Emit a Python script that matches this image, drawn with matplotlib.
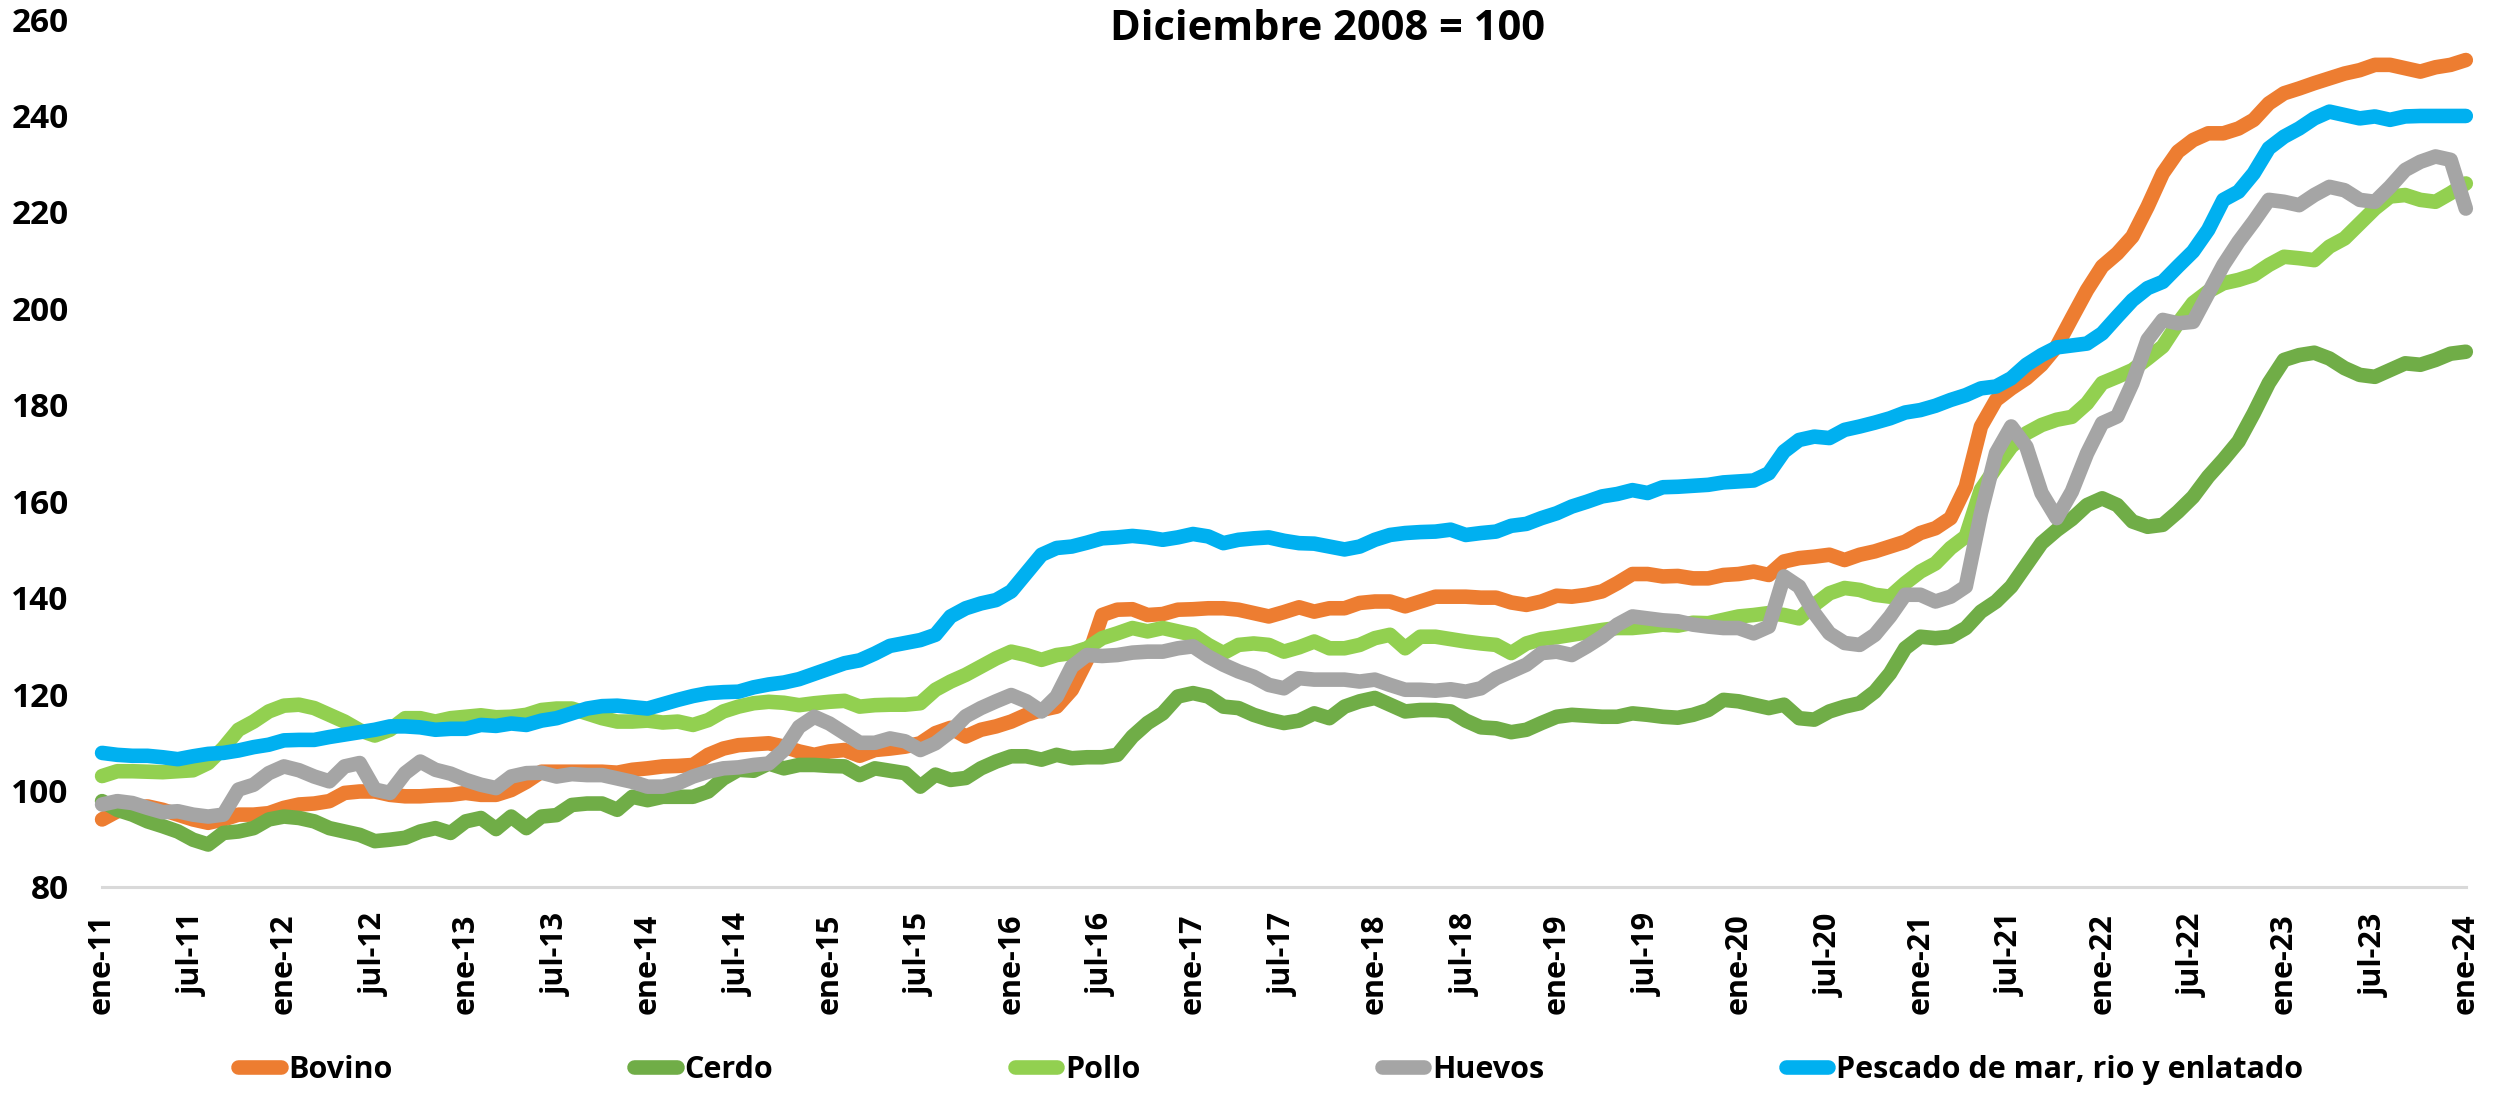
import matplotlib.pyplot as plt
import numpy as np

# indices mensuales ene-11 .. ene-24 (Diciembre 2008 = 100)
years = list(range(11, 25))
meses = ["ene", "jul"]

bovino = [94, 95.7, 96.4, 96.7, 96, 95, 94, 93.3, 94, 95, 95, 95.3,
          96.4, 97.1, 97.3, 97.8, 99.5, 99.8, 99.8, 99.1, 98.8, 98.8, 99, 99.1,
          99.5, 99.1, 99.1, 100.1, 101.8, 103.9, 103.9, 103.9, 103.9, 103.9, 103.7, 104.3,
          104.6, 105, 105.1, 105.3, 107.4, 108.7, 109.4, 109.6, 109.8, 109.1, 108.1, 107.4,
          108.1, 108.4, 107.2, 108.4, 108.7, 109.1, 109.8, 111.9, 113, 111.2, 112.6, 113.3,
          114.3, 115.7, 116.7, 117.4, 120.9, 127.1, 136.4, 137.5, 137.6, 136.4, 136.6, 137.5,
          137.6, 137.8, 137.8, 137.5, 136.8, 136.1, 137, 138, 137.1, 137.8, 137.8, 138.9,
          139.2, 139.2, 138.2, 139.2, 140.2, 140.2, 140.2, 140, 140, 139, 138.5, 139.2,
          140.4, 140.2, 140.6, 141.3, 143, 144.9, 144.9, 144.4, 144.5, 144.0, 144.0, 144.7,
          144.9, 145.4, 144.7, 147.5, 148.2, 148.5, 148.9, 147.8, 148.9, 149.6, 150.6, 151.6,
          153.4, 154.4, 156.5, 163, 175.5, 181, 183.4, 185.5, 188.3, 192.1, 198, 203.8,
          208.7, 211.4, 214.9, 221.1, 228, 232.5, 234.9, 236.3, 236.3, 237.3, 239.1, 242.5,
          244.6, 245.6, 246.7, 247.7, 248.7, 249.4, 250.5, 250.5, 249.8, 249.1, 250, 250.5,
          251.5]

cerdo = [97.8, 96, 95, 93.6, 92.6, 91.5, 89.8, 88.8, 91.2, 91.5, 92.2, 94,
         94.6, 94.3, 93.6, 92.2, 91.5, 90.8, 89.5, 89.8, 90.2, 91.5, 92.2, 91.2,
         93.6, 94.3, 92, 94.6, 92.2, 94.6, 94.9, 97, 97.3, 97.3, 96, 98.7,
         98, 98.7, 98.7, 98.7, 99.8, 102.5, 104.3, 104.1, 105.6, 104.6, 105.3, 105.3,
         105.1, 105, 103.2, 104.6, 104.1, 103.6, 100.8, 103.3, 102.2, 102.6, 104.6, 106,
         107.1, 107.1, 106.4, 107.4, 106.7, 106.9, 106.9, 107.4, 111.2, 114, 116, 119.5,
         120.2, 119.5, 117.4, 117.1, 115.7, 114.7, 114, 114.5, 116, 115, 117.4, 118.5,
         119.2, 117.8, 116.4, 116.7, 116.7, 116.4, 114.5, 113.1, 112.9, 112.1, 112.6, 114,
         115.3, 115.7, 115.5, 115.3, 115.3, 116, 115.7, 115.3, 115.1, 115.7, 116.7, 118.8,
         118.5, 117.8, 117.1, 117.8, 115, 114.7, 116.4, 117.4, 118.1, 120.5, 124.3, 129.5,
         131.9, 131.6, 131.9, 133.7, 137.1, 139.2, 142.3, 146.8, 151.3, 154, 156.3, 159.2,
         160.6, 159.2, 155.8, 154.7, 155.1, 157.8, 160.9, 165.1, 168.6, 172.4, 178.2, 184.5,
         189.3, 190.3, 190.8, 189.6, 187.6, 186.2, 185.8, 187.2, 188.6, 188.3, 189.3, 190.6,
         191]

pollo = [103, 104, 104, 103.9, 103.8, 104, 104.2, 105.7, 108.8, 112.6, 114.3, 116.4,
         117.6, 117.8, 117.1, 115.7, 114.3, 112.5, 111.4, 112.6, 115.0, 115.0, 114.3, 115.0,
         115.3, 115.6, 115.2, 115.3, 115.7, 116.7, 117, 117, 116, 115, 114.3, 114.3,
         114.5, 114.1, 114.3, 113.6, 114.6, 116.4, 117.4, 118.1, 118.4, 118.2, 117.7, 118.1,
         118.4, 118.6, 117.4, 117.7, 117.8, 117.8, 118.1, 120.9, 122.6, 124, 125.7, 127.4,
         128.8, 128.1, 127.1, 128.1, 128.5, 129.5, 131.6, 132.6, 133.7, 133, 133.7, 133,
         132.3, 130.2, 128.5, 130.2, 130.5, 130.2, 128.8, 129.7, 130.9, 129.5, 129.5, 130.2,
         131.6, 132.3, 129.5, 131.9, 131.9, 131.4, 130.9, 130.5, 130.2, 128.5, 130.5, 131.4,
         131.8, 132.3, 132.8, 133.3, 133.7, 133.7, 134, 134.4, 134.2, 134.8, 134.7, 135.4,
         136.1, 136.4, 136.8, 136.4, 135.7, 138.5, 140.9, 142, 141.6, 140.6, 140.2, 143,
         145.4, 147.1, 150.3, 152.7, 162.4, 167, 171.3, 174.1, 175.8, 176.9, 177.5, 180.3,
         184.5, 185.8, 187.2, 189.6, 192.1, 196.9, 201.1, 203.5, 205.2, 205.9, 206.9, 209,
         210.7, 210.4, 210, 212.8, 214.5, 217.6, 220.7, 223.2, 223.5, 222.5, 222.1, 223.9,
         225.9]

huevos = [97.1, 97.8, 97.4, 96.4, 95.5, 95.7, 95, 94.6, 95, 100.2, 101.2, 103.6,
          105, 104.2, 102.9, 101.9, 105, 105.7, 100.2, 99.5, 103.6, 106, 104.3, 103.5,
          102.2, 101.2, 100.5, 102.9, 103.6, 103.7, 102.9, 103.4, 103.2, 103.2, 102.5, 101.8,
          100.8, 100.8, 101.5, 102.9, 103.9, 104.6, 104.8, 105.3, 105.6, 108.4, 113.2, 115.3,
          113.9, 111.9, 109.9, 109.9, 110.8, 110.2, 108.4, 109.8, 112.2, 115.4, 117.1, 118.5,
          119.8, 118.5, 116.4, 119.5, 125.7, 128.1, 127.9, 128.1, 128.6, 128.8, 128.8, 129.5,
          129.9, 127.8, 126.1, 124.7, 123.6, 121.9, 121.2, 123.3, 123, 123, 123, 122.6,
          123, 121.9, 120.9, 120.9, 120.7, 121, 120.5, 121.2, 123.3, 124.7, 126.1, 128.5,
          128.8, 128.1, 129.9, 131.9, 134.4, 136.1, 135.7, 135.3, 135.1, 134.4, 134.0, 133.7,
          133.7, 132.6, 134.0, 144.4, 142.3, 136.8, 132.6, 130.6, 130.2, 132.3, 136.1, 140.6,
          140.6, 139.2, 140.2, 142.3, 157.5, 170, 175.5, 171.3, 161.7, 156.5, 162, 169.9,
          176.2, 177.6, 184.5, 193.5, 197.6, 196.9, 197.2, 203.1, 209, 213.8, 218, 222.5,
          222.1, 221.4, 223.5, 225.2, 224.5, 222.5, 222.1, 225.2, 228.7, 230.4, 231.5, 230.8,
          220.7]

pescado = [107.8, 107.4, 107.2, 107.2, 106.9, 106.5, 107.1, 107.6, 107.8, 108.3, 109, 109.5,
           110.4, 110.5, 110.5, 111.1, 111.6, 112.1, 112.6, 113.3, 113.3, 113.1, 112.6, 112.8,
           112.8, 113.6, 113.4, 113.9, 113.6, 114.5, 115, 116, 117, 117.5, 117.6, 117.3,
           117, 117.9, 118.8, 119.6, 120.2, 120.4, 120.5, 121.4, 122, 122.4, 123.1, 124.2,
           125.3, 126.4, 127, 128.4, 130, 130.6, 131.2, 132.3, 136.1, 137.8, 138.8, 139.5,
           141.3, 145.1, 148.9, 150.3, 150.6, 151.4, 152.3, 152.5, 152.8, 152.5, 152, 152.5,
           153.2, 152.7, 151.3, 152, 152.3, 152.5, 151.8, 151.3, 151.2, 150.6, 150.0, 150.6,
           152, 153, 153.4, 153.6, 153.7, 154.1, 153, 153.4, 153.7, 154.9, 155.3, 156.5,
           157.5, 158.9, 159.9, 161, 161.5, 162.3, 161.7, 162.9, 163, 163.2, 163.4, 163.9,
           164.1, 164.3, 165.8, 170.3, 172.7, 173.4, 173.1, 174.8, 175.5, 176.3, 177.2, 178.4,
           178.9, 179.8, 181, 182, 183.4, 183.8, 185.5, 188.3, 190.3, 191.9, 192.3, 192.7,
           194.8, 198.3, 201.7, 204.2, 205.5, 208.7, 211.8, 216.3, 222.5, 224.2, 228, 233.2,
           235.6, 237.3, 239.4, 240.8, 240.1, 239.4, 239.8, 239.1, 239.8, 239.9, 239.9, 239.9,
           239.9]

series = [("Bovino", bovino, "#ED7D31"),
          ("Cerdo", cerdo, "#70AD47"),
          ("Pollo", pollo, "#92D050"),
          ("Huevos", huevos, "#A5A5A5"),
          ("Pescado de mar, rio y enlatado", pescado, "#00B0F0")]

plt.rcParams['font.family'] = ['Open Sans', 'DejaVu Sans']
plt.rcParams['font.weight'] = 'bold'

fig = plt.figure(figsize=(24.96, 10.95), dpi=100)
ax = fig.add_axes([0.0409, 0.19, 0.947, 0.7926])

x = np.arange(len(bovino))
for name, vals, col in series:
    ax.plot(x, vals, color=col, lw=10.5, label=name, clip_on=False,
            solid_capstyle='round', solid_joinstyle='round')

ax.set_xlim(0, len(bovino) - 1)
ax.set_ylim(80, 260)
ax.set_yticks(np.arange(80, 261, 20))

ticks = np.arange(0, len(bovino), 6)
labels = [m + "-" + str(y) for y in years for m in meses][:len(ticks)]
ax.set_xticks(ticks)
ax.set_xticklabels(labels, rotation=90)

ax.tick_params(axis='both', length=0)
ax.tick_params(axis='y', labelsize=24, pad=24)
ax.tick_params(axis='x', labelsize=22, pad=19)
for s in ['top', 'right', 'left']:
    ax.spines[s].set_visible(False)
ax.spines['bottom'].set_color('#D9D9D9')
ax.spines['bottom'].set_linewidth(2.2)

fig.text(0.532, 0.9735, "Diciembre 2008 = 100", ha='center', va='center',
         fontsize=30, fontweight='bold')

fig.legend(loc='center', bbox_to_anchor=(0.509, 0.023), ncol=5, frameon=False,
           fontsize=22, handlelength=1.4, handletextpad=0.25, columnspacing=7.9)

fig.savefig("out.png", dpi=100)
